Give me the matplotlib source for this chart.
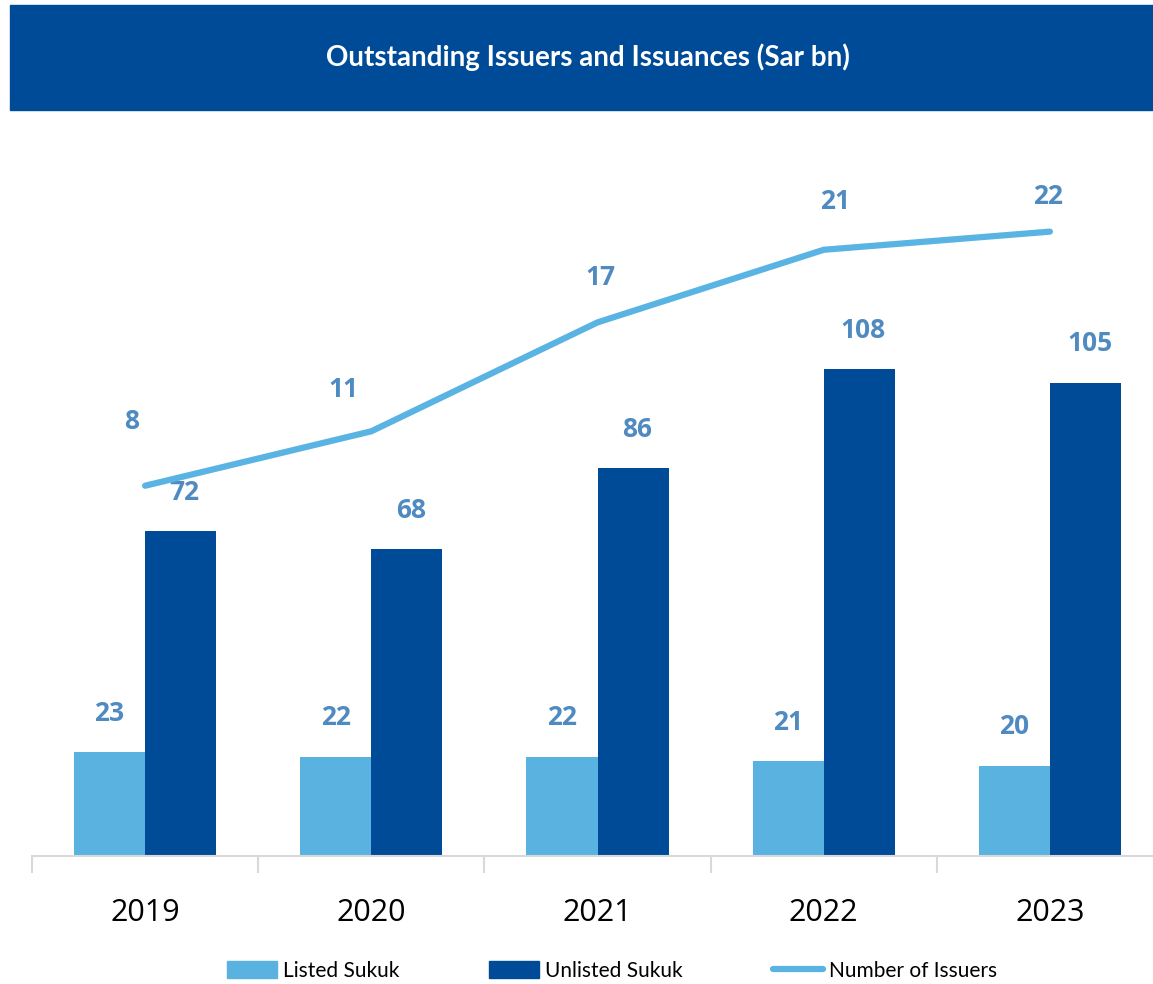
import matplotlib.pyplot as plt
from matplotlib.patches import Rectangle, Patch
from matplotlib.lines import Line2D
import numpy as np

# Data

years = ["2019", "2020", "2021", "2022", "2023"]
listed = [23, 22, 22, 21, 20]
unlisted = [72, 68, 86, 108, 105]
issuers = [8, 11, 17, 21, 22]

# Colours

dark_blue = "#004B98"
light_blue = "#5AB2E0"
label_blue = "#4F8AC1"
line_blue = "#5AB4E3"

plt.rcParams['font.family'] = ['Open Sans', 'DejaVu Sans']

fig = plt.figure(figsize=(11.53, 9.84), dpi=100)

# Title banner
fig.patches.append(Rectangle((10/1153, 1 - 110/984), 1.0, 105/984,
                             transform=fig.transFigure, color=dark_blue, zorder=0))
fig.text(588/1153, 1 - 57/984, "Outstanding Issuers and Issuances (Sar bn)",
         color="white", fontsize=20, fontweight="bold", ha="center", va="center",
         family=['Lato', 'DejaVu Sans'])

ax = fig.add_axes([32/1153, 128/984, 1131/1153, 726/984])
x = np.arange(len(years))
w = 0.314

ax.bar(x - w/2, listed, w, color=light_blue, zorder=2)
ax.bar(x + w/2, unlisted, w, color=dark_blue, zorder=2)
ax.set_xlim(-0.5, 4.5)
ax.set_ylim(0, 161)

for xi, v in zip(x, listed):
    ax.annotate(str(v), (xi - w/2, v), xytext=(0, 28), textcoords="offset points",
                ha="center", va="center", color=label_blue, fontsize=19, fontweight="bold")
for xi, v in zip(x, unlisted):
    ax.annotate(str(v), (xi + w/2, v), xytext=(3, 28), textcoords="offset points",
                ha="center", va="center", color=label_blue, fontsize=19, fontweight="bold")

for s in ["top", "right", "left"]:
    ax.spines[s].set_visible(False)
ax.spines["bottom"].set_color("#D9D9D9")
ax.spines["bottom"].set_linewidth(1.5)
ax.set_yticks([])
ax.set_xticks(x)
ax.set_xticklabels(years, fontsize=22)
ax.tick_params(axis="x", which="major", length=0, pad=30)
ax.set_xticks(np.arange(-0.5, 5, 1), minor=True)
ax.tick_params(axis="x", which="minor", length=12, color="#D9D9D9", width=1.5)

# Number of issuers on a secondary axis
ax2 = ax.twinx()
ax2.plot(x, issuers, color=line_blue, lw=4.5, solid_capstyle="round", zorder=3)
ax2.set_ylim(-12.4, 27.6)
ax2.set_yticks([])
for s in ["top", "right", "left", "bottom"]:
    ax2.spines[s].set_visible(False)

line_offsets = [(-10, 46), (-20, 30), (2, 32), (8, 35), (-1, 25)]
for xi, v, off in zip(x, issuers, line_offsets):
    ax2.annotate(str(v), (xi, v), xytext=off, textcoords="offset points",
                 ha="center", va="center", color=label_blue, fontsize=19, fontweight="bold")

handles = [Patch(color=light_blue), Patch(color=dark_blue),
           Line2D([0], [0], color=line_blue, lw=4.5, solid_capstyle="round")]
fig.legend(handles, ["Listed Sukuk", "Unlisted Sukuk", "Number of Issuers"],
           loc="center", bbox_to_anchor=(612/1153, 13/984), ncol=3, frameon=False,
           prop={"family": ['Lato', 'DejaVu Sans'], "size": 15},
           handlelength=2.4, handleheight=0.9, handletextpad=0.3, columnspacing=4.3)

fig.savefig("out.png", dpi=100)
